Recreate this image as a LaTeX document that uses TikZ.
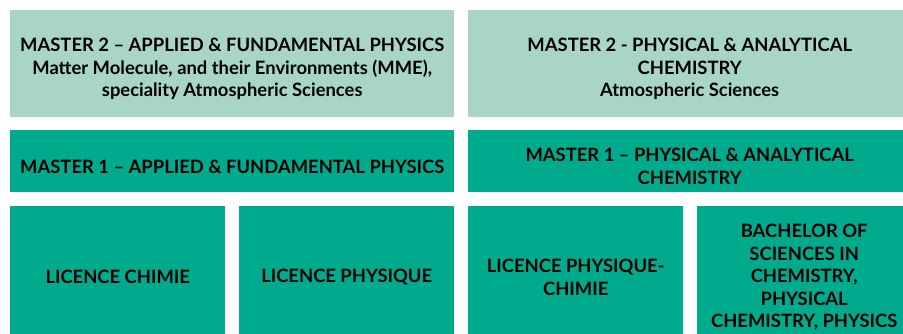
\documentclass[tikz,border=0pt]{standalone}
\usepackage{fontspec}
\setmainfont{Lato}
\usetikzlibrary{positioning}
\definecolor{paleteal}{RGB}{168,213,199}
\definecolor{deepteal}{RGB}{0,170,141}
\newcommand\padtop{\rule{0pt}{24pt}}

\begin{document}
\begin{tikzpicture}[x=1pt,y=-1pt,
  cell/.style={anchor=north west,inner sep=0pt,align=center,
    font=\fontsize{18.4}{22.4}\selectfont\bfseries},
  mtwo/.style={cell,fill=paleteal,minimum height=107pt},
  mone/.style={cell,fill=deepteal,minimum height=62pt},
  lic/.style={cell,fill=deepteal,minimum height=142pt,minimum width=215pt}]
\useasboundingbox (0,0) rectangle (903,333);
%master 2
\node[mtwo,minimum width=444pt] (M2A) at (10,10)
  {\padtop MASTER 2 -- APPLIED \& FUNDAMENTAL PHYSICS\\
   Matter Molecule, and their Environments (MME),\\
   speciality Atmospheric Sciences};
\node[mtwo,minimum width=443pt] (M2C) at (468,10)
  {\padtop MASTER 2 - PHYSICAL \& ANALYTICAL\\CHEMISTRY\\Atmospheric Sciences};
%master 1
\node[mone,minimum width=444pt] (M1A) at (10,130)
  {\padtop MASTER 1 -- APPLIED \& FUNDAMENTAL PHYSICS};
\node[mone,minimum width=443pt] (M1C) at (468,130)
  {\padtop MASTER 1 -- PHYSICAL \& ANALYTICAL\\CHEMISTRY};
%licences
\node[lic] (LC) at (10,206) {LICENCE CHIMIE};
\node[lic] (LP) at (239,206) {LICENCE PHYSIQUE};
\node[lic] (LPC) at (468,206) {LICENCE PHYSIQUE-\\CHIMIE};
\node[lic,minimum width=214pt] (BS) at (697,206)
  {BACHELOR OF\\SCIENCES IN\\CHEMISTRY,\\PHYSICAL\\CHEMISTRY, PHYSICS};
\end{tikzpicture}
\end{document}
